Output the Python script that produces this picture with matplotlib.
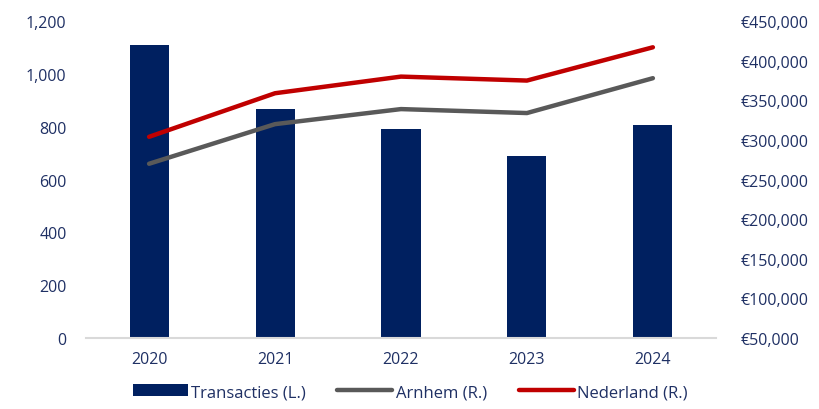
import matplotlib.pyplot as plt
from matplotlib.ticker import FuncFormatter

years = ['2020', '2021', '2022', '2023', '2024']
transacties = [1110, 867, 791, 690, 807]
arnhem = [270000, 320000, 339000, 334000, 378000]
nederland = [304000, 359000, 380000, 375000, 417000]

navy = '#002060'
red = '#C00000'
grey = '#595959'
txt = '#1F3064'

plt.rcParams['font.family'] = ['Open Sans', 'DejaVu Sans']

fig = plt.figure(figsize=(8.2, 4.1), dpi=100)
ax = fig.add_axes([0.105, 0.173, 0.768, 0.773])
ax2 = ax.twinx()

x = range(len(years))
bars = ax.bar(x, transacties, width=0.31, color=navy, label='Transacties (L.)', zorder=2)
l1, = ax2.plot(x, arnhem, color=grey, lw=3.2, solid_capstyle='round', label='Arnhem (R.)')
l2, = ax2.plot(x, nederland, color=red, lw=3.2, solid_capstyle='round', label='Nederland (R.)')

ax.set_xlim(-0.5, 4.5)
ax.set_ylim(0, 1200)
ax.set_yticks(range(0, 1201, 200))
ax2.set_ylim(50000, 450000)
ax2.set_yticks(range(50000, 450001, 50000))

ax.yaxis.set_major_formatter(FuncFormatter(lambda v, p: f'{int(v):,}'))
ax2.yaxis.set_major_formatter(FuncFormatter(lambda v, p: f'€{int(v):,}'))
ax.set_xticks(list(x))
ax.set_xticklabels(years)

for a in (ax, ax2):
    for s in a.spines.values():
        s.set_visible(False)
    a.tick_params(length=0, labelsize=11.5, labelcolor=txt)
ax.spines['bottom'].set_visible(True)
ax.spines['bottom'].set_color('#D9D9D9')
ax.spines['bottom'].set_linewidth(1.5)
ax.tick_params(axis='y', pad=14)
ax.tick_params(axis='x', pad=9)
ax2.tick_params(axis='y', pad=18)

leg = fig.legend(handles=[bars, l1, l2], loc='lower center', ncol=3, frameon=False,
                 bbox_to_anchor=(0.5, -0.015), fontsize=12, handlelength=3.3,
                 handletextpad=0.2, columnspacing=1.9, labelcolor=txt)

fig.savefig('out.png', dpi=100)
